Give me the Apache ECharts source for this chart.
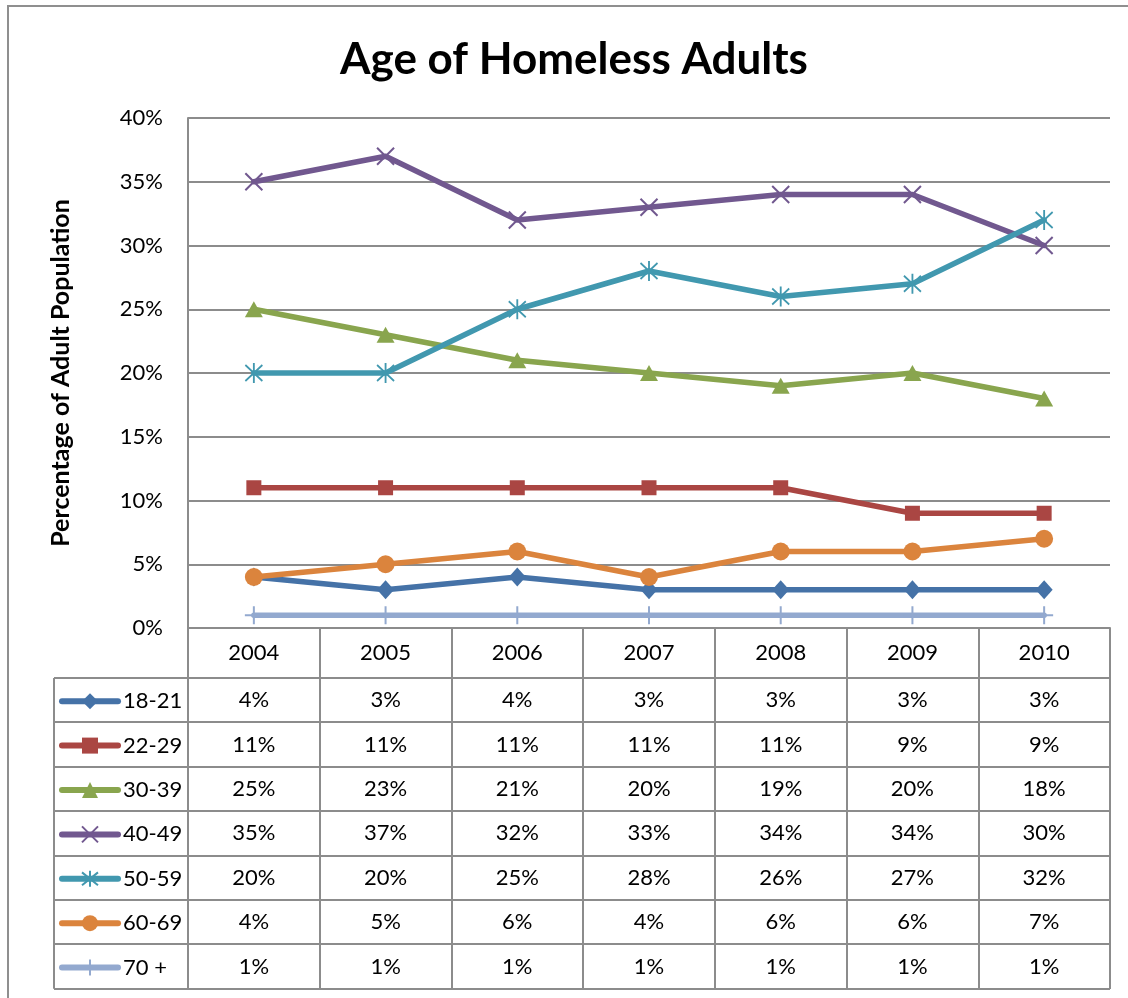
<!DOCTYPE html>
<html>
<head>
<meta charset="utf-8">
<title>Age of Homeless Adults</title>
<script src="https://cdn.jsdelivr.net/npm/echarts@6/dist/echarts.min.js"></script>
<style>
  html, body { margin: 0; padding: 0; background: #ffffff; }
  #chart { width: 1128px; height: 998px; }
</style>
</head>
<body>
<div id="chart"></div>
<script>
// ---- data ----
const years = ['2004', '2005', '2006', '2007', '2008', '2009', '2010'];
const ageGroups = ['18-21', '22-29', '30-39', '40-49', '50-59', '60-69', '70 +'];
const age18to21 = [4, 3, 4, 3, 3, 3, 3];
const age22to29 = [11, 11, 11, 11, 11, 9, 9];
const age30to39 = [25, 23, 21, 20, 19, 20, 18];
const age40to49 = [35, 37, 32, 33, 34, 34, 30];
const age50to59 = [20, 20, 25, 28, 26, 27, 32];
const age60to69 = [4, 5, 6, 4, 6, 6, 7];
const age70plus = [1, 1, 1, 1, 1, 1, 1];
const yMin = 0, yMax = 40, yStep = 5;

const seriesValues = [age18to21, age22to29, age30to39, age40to49, age50to59, age60to69, age70plus];

// ---- styling ----
const FONT = 'Lato, "Liberation Sans", "DejaVu Sans", sans-serif';
const GRID_GRAY = '#8c8c8c';
const palette = ['#4572A7', '#AA4643', '#89A54E', '#71588F', '#4198AF', '#DB843D', '#93A9CF'];
const markers = [
  { symbol: 'diamond', size: [17, 19], stroke: false },
  { symbol: 'rect', size: 15, stroke: false },
  { symbol: 'triangle', size: [18, 16], stroke: false },
  { symbol: 'path://M0,0L16,16M16,0L0,16', size: 17, stroke: true },
  { symbol: 'path://M0,0L16,16M16,0L0,16M8,-2L8,18', size: [17, 20], stroke: true },
  { symbol: 'circle', size: 18, stroke: false },
  { symbol: 'path://M9,0L9,18M0,9L18,9', size: 18, stroke: true }
];

// plot + table geometry
const plotLeft = 188, plotRight = 1110, plotTop = 118, plotBottom = 628;
const headerH = 50, rowH = 44.4;
const tableLeft = 54;
const rowTop = i => plotBottom + headerH + i * rowH;
const rowCenter = i => rowTop(i) + rowH / 2;

const chart = echarts.init(document.getElementById('chart'), null, { renderer: 'canvas' });

const series = ageGroups.map((name, i) => ({
  name,
  type: 'line',
  data: seriesValues[i],
  symbol: markers[i].symbol,
  symbolSize: markers[i].size,
  showAllSymbol: true,
  lineStyle: { color: palette[i], width: 5.5, cap: 'round', join: 'round' },
  itemStyle: {
    color: palette[i],
    borderColor: palette[i],
    borderWidth: markers[i].stroke ? 2 : 0
  },
  emphasis: { disabled: true },
  z: 2 + i
}));

// one legend per table row, sitting in the left column
const legends = ageGroups.map((name, i) => ({
  data: [name],
  left: 59,
  top: rowCenter(i) - 10,
  padding: 0,
  itemWidth: 56,
  itemHeight: 20,
  selectedMode: false,
  lineStyle: { width: 6, cap: 'round' },
  textStyle: { fontSize: 22, color: '#000', fontFamily: FONT }
}));

chart.setOption({
  animation: false,
  backgroundColor: '#ffffff',
  title: {
    text: 'Age of Homeless Adults',
    left: 340,
    top: 38,
    padding: 0,
    textStyle: { fontSize: 44, fontWeight: 'bold', color: '#000', fontFamily: FONT }
  },
  legend: legends,
  grid: { left: plotLeft, right: 1128 - plotRight, top: plotTop, bottom: 998 - plotBottom, containLabel: false },
  xAxis: {
    type: 'category',
    data: years,
    boundaryGap: true,
    axisLine: { show: true, lineStyle: { color: GRID_GRAY, width: 2 } },
    axisTick: { show: true, interval: 0, length: 361, lineStyle: { color: GRID_GRAY, width: 2 } },
    axisLabel: { interval: 0, margin: 25, verticalAlign: 'middle', fontSize: 22, color: '#000', fontFamily: FONT },
    splitLine: { show: false }
  },
  yAxis: {
    type: 'value',
    min: yMin,
    max: yMax,
    interval: yStep,
    name: 'Percentage of Adult Population',
    nameLocation: 'middle',
    nameGap: 115,
    nameRotate: 90,
    nameTextStyle: { fontSize: 25, fontWeight: 'bold', color: '#000', fontFamily: FONT },
    axisLine: { show: true, lineStyle: { color: GRID_GRAY, width: 2 } },
    axisTick: { show: false },
    axisLabel: { margin: 25, fontSize: 22, color: '#000', fontFamily: FONT, formatter: '{value}%' },
    splitLine: { show: true, lineStyle: { color: GRID_GRAY, width: 2 } }
  },
  series
});

// ---- data table beneath the plot ----
const colCenters = years.map((y, i) => chart.convertToPixel({ xAxisIndex: 0 }, i));
const tableBottom = rowTop(ageGroups.length);
const graphics = [];

// outer chart frame
graphics.push({
  type: 'rect', z: -1, silent: true,
  shape: { x: 8, y: 6, width: 1200, height: 1100 },
  style: { fill: 'none', stroke: '#8f8f8f', lineWidth: 2 }
});

// horizontal row rules
for (let r = 0; r <= ageGroups.length; r++) {
  const y = Math.round(rowTop(r));
  graphics.push({
    type: 'line', silent: true, z: 1,
    shape: { x1: tableLeft, y1: y, x2: plotRight, y2: y },
    style: { stroke: GRID_GRAY, lineWidth: 2 }
  });
}
// left edge of the legend column
graphics.push({
  type: 'line', silent: true, z: 1,
  shape: { x1: tableLeft, y1: rowTop(0), x2: tableLeft, y2: tableBottom },
  style: { stroke: GRID_GRAY, lineWidth: 2 }
});

// cell values
seriesValues.forEach((vals, r) => {
  vals.forEach((v, c) => {
    graphics.push({
      type: 'text', silent: true, z: 3,
      x: colCenters[c], y: rowCenter(r),
      style: {
        text: v + '%', fontSize: 22, fontFamily: FONT, fill: '#000',
        align: 'center', verticalAlign: 'middle'
      }
    });
  });
});

chart.setOption({ graphic: graphics });
</script>
</body>
</html>
